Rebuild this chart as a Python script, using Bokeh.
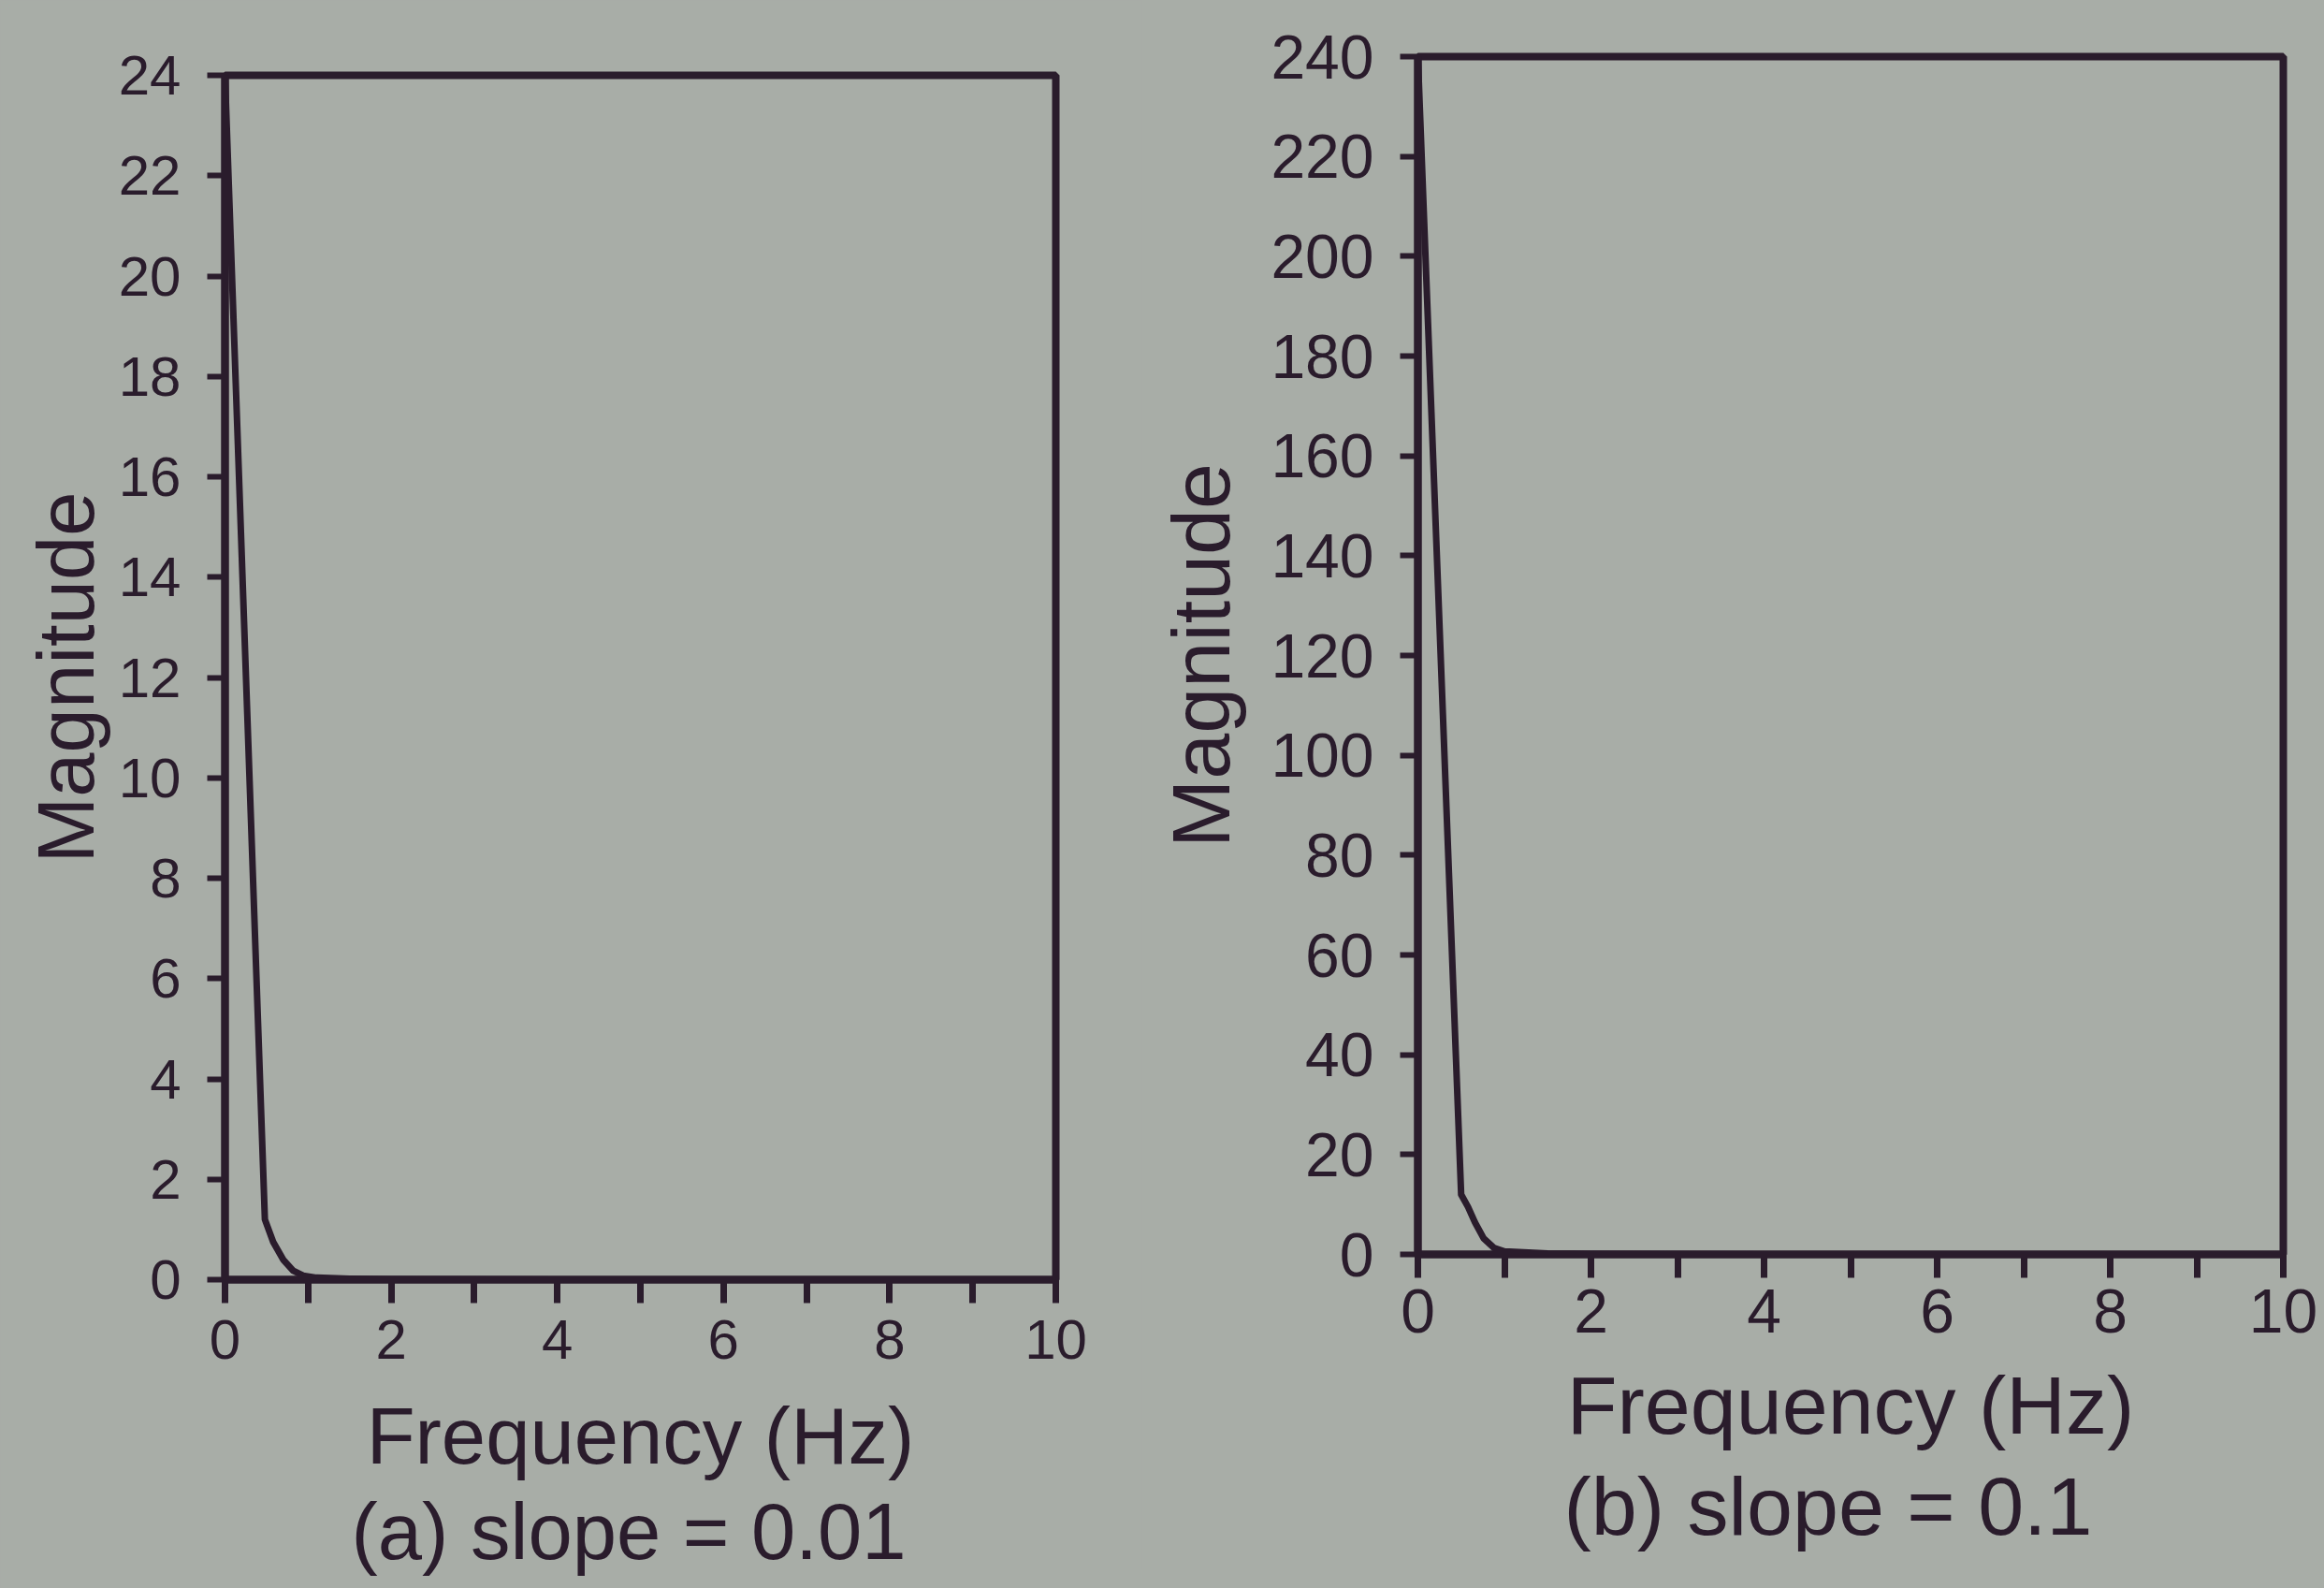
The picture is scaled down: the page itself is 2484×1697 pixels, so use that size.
from bokeh.plotting import figure
from bokeh.layouts import row
from bokeh.models import Range1d, FixedTicker, Title
from bokeh.embed import file_html
from bokeh.resources import INLINE

# ---- data ----
freq_a = [0.0, 0.48, 0.58, 0.70, 0.82, 0.94, 1.1, 1.5, 2.0, 4.0, 6.0, 8.0, 10.0]
mag_a = [24.0, 1.2, 0.75, 0.40, 0.18, 0.08, 0.04, 0.02, 0.01, 0.0, 0.0, 0.0, 0.0]

freq_b = [0.0, 0.50, 0.58, 0.66, 0.76, 0.88, 1.0, 1.5, 2.0, 4.0, 6.0, 8.0, 10.0]
mag_b = [240.0, 12.0, 9.5, 6.4, 3.2, 1.3, 0.6, 0.2, 0.1, 0.0, 0.0, 0.0, 0.0]

x_major = [0, 2, 4, 6, 8, 10]
x_minor = [1, 3, 5, 7, 9]
y_ticks_a = [0, 2, 4, 6, 8, 10, 12, 14, 16, 18, 20, 22, 24]
y_ticks_b = [0, 20, 40, 60, 80, 100, 120, 140, 160, 180, 200, 220, 240]

x_label = "Frequency (Hz)"
y_label = "Magnitude"
caption_a = "(a) slope = 0.01"
caption_b = "(b) slope = 0.1"

BG = "#a8ada7"
INK = "#2a1c2c"
FONT = "Liberation Sans"


def panel(freq, mag, yticks, ymax, caption, frame, borders, tick_fs, label_fs,
          xl_standoff, xa_standoff, ya_standoff, title_standoff, title_offset):
    fw, fh = frame
    left, right, top, bottom = borders
    p = figure(frame_width=fw, frame_height=fh, output_backend="svg", toolbar_location=None,
               x_range=Range1d(0, 10), y_range=Range1d(0, ymax),
               min_border_left=left, min_border_right=right,
               min_border_top=top, min_border_bottom=bottom)
    p.title = None
    p.background_fill_color = BG
    p.border_fill_color = BG
    p.outline_line_color = INK
    p.outline_line_width = 8
    p.grid.visible = False

    p.line(freq, mag, line_color=INK, line_width=7, line_join="round")

    xa = p.xaxis[0]
    xa.ticker = FixedTicker(ticks=x_major, minor_ticks=x_minor)
    xa.axis_label = x_label
    ya = p.yaxis[0]
    ya.ticker = FixedTicker(ticks=yticks)
    ya.axis_label = y_label

    for ax in (xa, ya):
        ax.axis_line_color = INK
        ax.axis_line_width = 8
        ax.major_tick_line_color = INK
        ax.minor_tick_line_color = INK
        ax.major_tick_in = 0
        ax.minor_tick_in = 0
        ax.major_label_text_font = FONT
        ax.major_label_text_font_size = f"{tick_fs}px"
        ax.major_label_text_color = INK
        ax.axis_label_text_font = FONT
        ax.axis_label_text_font_size = f"{label_fs}px"
        ax.axis_label_text_font_style = "normal"
        ax.axis_label_text_color = INK

    xa.major_tick_out = 25
    xa.minor_tick_out = 25
    xa.major_tick_line_width = 7
    xa.minor_tick_line_width = 7
    xa.major_label_standoff = xl_standoff
    xa.axis_label_standoff = xa_standoff

    ya.major_tick_out = 19
    ya.major_tick_line_width = 6
    ya.minor_tick_line_color = None
    ya.major_label_standoff = 28
    ya.axis_label_standoff = ya_standoff

    t = Title(text=caption, align="left", text_font=FONT,
              text_font_size=f"{label_fs}px", text_font_style="normal",
              text_color=INK, standoff=title_standoff, offset=title_offset)
    p.add_layout(t, "below")
    return p


pa = panel(freq_a, mag_a, y_ticks_a, 24, caption_a, (888, 1287),
           (240, 92, 80, 330), 60, 85, 18, 32, 6, 5, 135)
pb = panel(freq_b, mag_b, y_ticks_b, 240, caption_b, (925, 1280),
           (295, 44, 58, 359), 66, 88, 12, 25, 22, 8, 156)
pb.styles = {"position": "relative", "top": "-20px"}

layout = row(pa, pb, spacing=0)
layout.styles = {"background-color": BG}
open("out.html", "w").write(file_html(layout, INLINE))
